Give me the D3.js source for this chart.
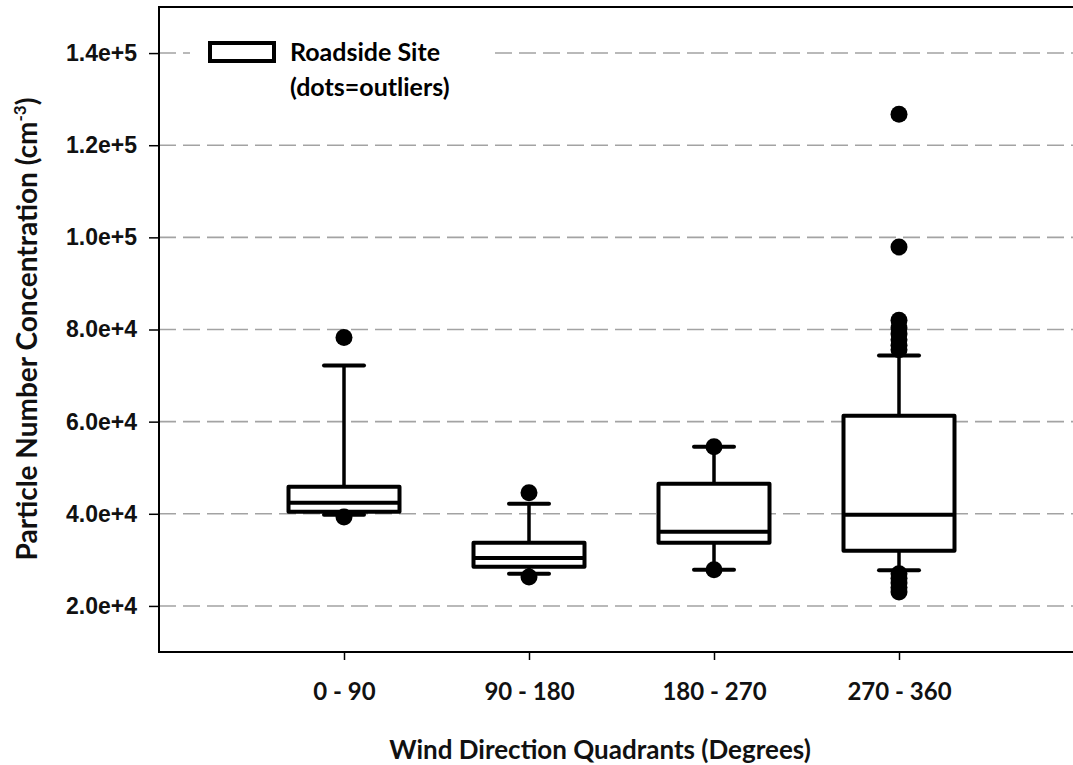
<!DOCTYPE html>
<html>
<head>
<meta charset="utf-8">
<script src="https://cdn.jsdelivr.net/npm/d3@7"></script>
<style>
  body { margin: 0; background: #fff; }
  svg { display: block; }
</style>
</head>
<body>
<svg id="chart"></svg>
<script>
// categories on the x axis
let categories = ['0 - 90', '90 - 180', '180 - 270', '270 - 360']

// box statistics
let whiskerLow = [39780, 26960, 27830, 27720]
let q1 = [40430, 28480, 33700, 31960]
let median = [42390, 30430, 36090, 39780]
let q3 = [45870, 33700, 46520, 61300]
let whiskerHigh = [72170, 42170, 54560, 74350]

// outliers for each category
let outliers = [
  [78260, 39300],
  [44560, 26300],
  [54560, 27830],
  [126700, 97900, 82000, 80300, 79000, 77800, 76600, 75600,
   27000, 26000, 25000, 24000, 23000],
]

let yTicks = [20000, 40000, 60000, 80000, 100000, 120000, 140000]
let yTickLabels = ['2.0e+4', '4.0e+4', '6.0e+4', '8.0e+4', '1.0e+5', '1.2e+5', '1.4e+5']

let width = 1073
let height = 765
let plot = { left: 159, top: 7, bottom: 652, right: 1084 }

let svg = d3.select('svg#chart').attr('width', width).attr('height', height)

let xScale = d3.scaleLinear().domain([0, 5]).range([plot.left, plot.right])
let yScale = d3.scaleLinear().domain([10000, 150000]).range([plot.bottom, plot.top])

let boxWidth = xScale(0.6) - xScale(0)
let capWidth = 40

// dashed grid lines
svg.append('g')
  .selectAll('line')
  .data(yTicks)
  .join('line')
  .attr('x1', plot.left)
  .attr('x2', width)
  .attr('y1', d => yScale(d))
  .attr('y2', d => yScale(d))
  .attr('stroke', '#a3a3a3')
  .attr('stroke-width', 1.6)
  .attr('stroke-dasharray', '17,7')

// legend (white background hides the grid)
let legend = svg.append('g')
legend.append('rect')
  .attr('x', 190).attr('y', 34).attr('width', 298).attr('height', 74)
  .attr('fill', '#fff')
legend.append('rect')
  .attr('x', 210).attr('y', 43).attr('width', 64).attr('height', 18)
  .attr('fill', '#fff').attr('stroke', '#000').attr('stroke-width', 4)
legend.append('text')
  .attr('x', 290).attr('y', 61)
  .attr('font-family', 'Lato').attr('font-weight', 'bold').attr('font-size', 25)
  .text('Roadside Site')
legend.append('text')
  .attr('x', 290).attr('y', 96)
  .attr('font-family', 'Lato').attr('font-weight', 'bold').attr('font-size', 25)
  .text('(dots=outliers)')

// boxes
let boxes = svg.append('g')
  .selectAll('g')
  .data(categories.map((c, i) => i))
  .join('g')

boxes.append('line')
  .attr('x1', i => xScale(i + 1)).attr('x2', i => xScale(i + 1))
  .attr('y1', i => yScale(whiskerHigh[i])).attr('y2', i => yScale(q3[i]))
  .attr('stroke', '#000').attr('stroke-width', 3.5)
boxes.append('line')
  .attr('x1', i => xScale(i + 1)).attr('x2', i => xScale(i + 1))
  .attr('y1', i => yScale(q1[i])).attr('y2', i => yScale(whiskerLow[i]))
  .attr('stroke', '#000').attr('stroke-width', 3.5)

// whisker caps
boxes.selectAll('line.cap')
  .data(i => [[i, whiskerLow[i]], [i, whiskerHigh[i]]])
  .join('line')
  .attr('class', 'cap')
  .attr('x1', d => xScale(d[0] + 1) - capWidth / 2)
  .attr('x2', d => xScale(d[0] + 1) + capWidth / 2)
  .attr('y1', d => yScale(d[1])).attr('y2', d => yScale(d[1]))
  .attr('stroke', '#000').attr('stroke-width', 4).attr('stroke-linecap', 'round')

boxes.append('rect')
  .attr('x', i => xScale(i + 1) - boxWidth / 2)
  .attr('width', boxWidth)
  .attr('y', i => yScale(q3[i]))
  .attr('height', i => yScale(q1[i]) - yScale(q3[i]))
  .attr('fill', '#fff').attr('stroke', '#000').attr('stroke-width', 4)
  .attr('stroke-linejoin', 'round')

boxes.append('line')
  .attr('x1', i => xScale(i + 1) - boxWidth / 2)
  .attr('x2', i => xScale(i + 1) + boxWidth / 2)
  .attr('y1', i => yScale(median[i])).attr('y2', i => yScale(median[i]))
  .attr('stroke', '#000').attr('stroke-width', 4)

// outlier dots
boxes.selectAll('circle')
  .data(i => outliers[i].map(v => [i, v]))
  .join('circle')
  .attr('cx', d => xScale(d[0] + 1))
  .attr('cy', d => yScale(d[1]))
  .attr('r', 8.5)
  .attr('fill', '#000')

// frame (right edge falls outside the picture)
svg.append('path')
  .attr('d', `M${width},${plot.top}H${plot.left}V${plot.bottom}H${width}`)
  .attr('fill', 'none').attr('stroke', '#000').attr('stroke-width', 2)

// y axis
let yAxis = d3.axisLeft(yScale)
  .tickValues(yTicks)
  .tickFormat((d, i) => yTickLabels[i])
  .tickSize(10)
  .tickPadding(12)
let yG = svg.append('g')
  .attr('transform', `translate(${plot.left},0)`)
  .call(yAxis)
yG.select('.domain').remove()
yG.selectAll('.tick line').attr('stroke', '#000').attr('stroke-width', 1.5)
yG.selectAll('.tick text')
  .attr('font-family', 'Liberation Sans, Arial, sans-serif')
  .attr('font-weight', 'bold')
  .attr('font-size', 23)
  .attr('fill', '#111')

// x axis
let xAxis = d3.axisBottom(xScale)
  .tickValues([1, 2, 3, 4])
  .tickFormat((d, i) => categories[i])
  .tickSize(8)
let xG = svg.append('g')
  .attr('transform', `translate(0,${plot.bottom})`)
  .call(xAxis)
xG.select('.domain').remove()
xG.selectAll('.tick line').attr('stroke', '#000').attr('stroke-width', 1.5)
xG.selectAll('.tick text')
  .attr('y', 48)
  .attr('dy', 0)
  .attr('font-family', 'Lato')
  .attr('font-weight', 'bold')
  .attr('font-size', 24)
  .attr('fill', '#111')

// axis titles
svg.append('text')
  .attr('x', 600).attr('y', 759)
  .attr('text-anchor', 'middle')
  .attr('font-family', 'Lato').attr('font-weight', 'bold').attr('font-size', 26)
  .attr('fill', '#111')
  .text('Wind Direction Quadrants (Degrees)')

let yTitle = svg.append('text')
  .attr('transform', 'translate(37,329) rotate(-90)')
  .attr('text-anchor', 'middle')
  .attr('font-family', 'Lato').attr('font-weight', 'bold').attr('font-size', 28)
  .attr('fill', '#111')
yTitle.append('tspan').text('Particle Number Concentration (cm')
yTitle.append('tspan').attr('dy', -11).attr('font-size', 17).text('-3')
yTitle.append('tspan').attr('dy', 11).text(')')
</script>
</body>
</html>
